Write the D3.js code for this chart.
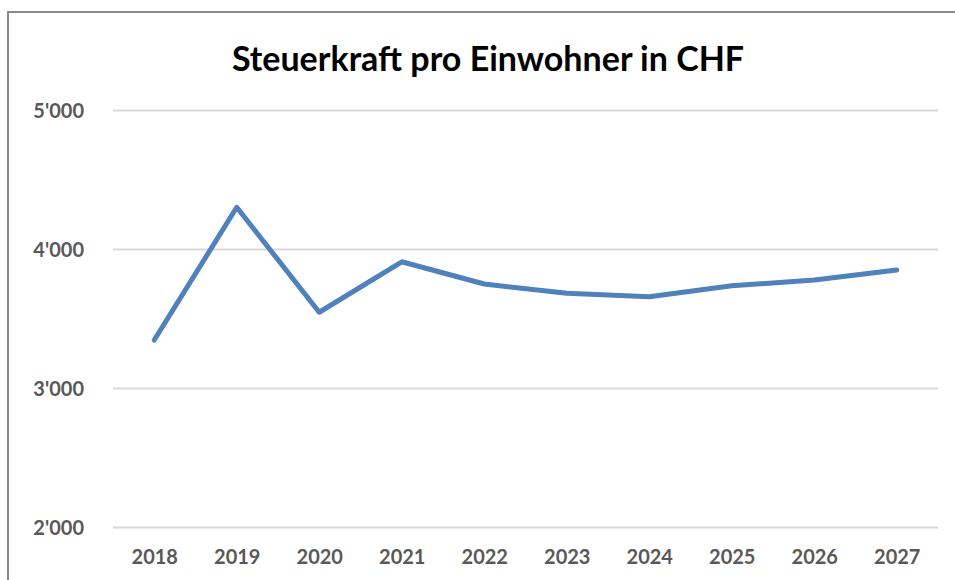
<!DOCTYPE html>
<html>
<head>
<meta charset="utf-8">
<script src="https://cdn.jsdelivr.net/npm/d3@7"></script>
<style>
  body { margin: 0; background: #fff; }
  svg { display: block; }
  .tick text { font-family: Lato, "Open Sans", sans-serif; font-weight: bold; fill: #595959; }
</style>
</head>
<body>
<svg id="viz" width="955" height="580"></svg>
<script>
// data
var years = ["2018", "2019", "2020", "2021", "2022", "2023", "2024", "2025", "2026", "2027"];
var steuerkraft = [3345, 4300, 3545, 3908, 3748, 3681, 3657, 3735, 3777, 3849];
var yTicks = [2000, 3000, 4000, 5000];

var svg = d3.select("#viz");
var plot = { left: 113, right: 938, top: 110, bottom: 527 };

// chart frame (cut off at right/bottom like the reference)
svg.append("rect")
    .attr("x", 8).attr("y", 12)
    .attr("width", 1000).attr("height", 1000)
    .attr("fill", "none")
    .attr("stroke", "#898989")
    .attr("stroke-width", 2);

svg.append("text")
    .attr("x", 488).attr("y", 71)
    .attr("text-anchor", "middle")
    .style("font-family", "Lato, 'Open Sans', sans-serif")
    .style("font-weight", "bold")
    .style("font-size", "34px")
    .attr("fill", "#000")
    .text("Steuerkraft pro Einwohner in CHF");

var xScale = d3.scalePoint().domain(years).range([plot.left, plot.right]).padding(0.5);
var yScale = d3.scaleLinear().domain([2000, 5000]).range([plot.bottom, plot.top]);

var fmt = function (d) { return d3.format(",")(d).replace(",", "'"); };

// gridlines + y labels
var yAxis = d3.axisLeft(yScale).tickValues(yTicks).tickFormat(fmt)
    .tickSize(-(plot.right - plot.left)).tickPadding(29);
var gy = svg.append("g").attr("class", "y axis")
    .attr("transform", "translate(" + plot.left + ",0)")
    .call(yAxis);
gy.select(".domain").remove();
gy.selectAll("line").attr("stroke", "#d9d9d9").attr("stroke-width", 2);
gy.selectAll("text").style("font-size", "20px").attr("dy", "0.35em");

// x labels
var xAxis = d3.axisBottom(xScale).tickSize(0).tickPadding(23);
var gx = svg.append("g").attr("class", "x axis")
    .attr("transform", "translate(0," + plot.bottom + ")")
    .call(xAxis);
gx.select(".domain").remove();
gx.selectAll("text").style("font-size", "20px");

// line
var line = d3.line()
    .x(function (d, i) { return xScale(years[i]); })
    .y(function (d) { return yScale(d); });

svg.append("path")
    .datum(steuerkraft)
    .attr("d", line)
    .attr("fill", "none")
    .attr("stroke", "#4f81bd")
    .attr("stroke-width", 5)
    .attr("stroke-linejoin", "round")
    .attr("stroke-linecap", "round");
</script>
</body>
</html>
